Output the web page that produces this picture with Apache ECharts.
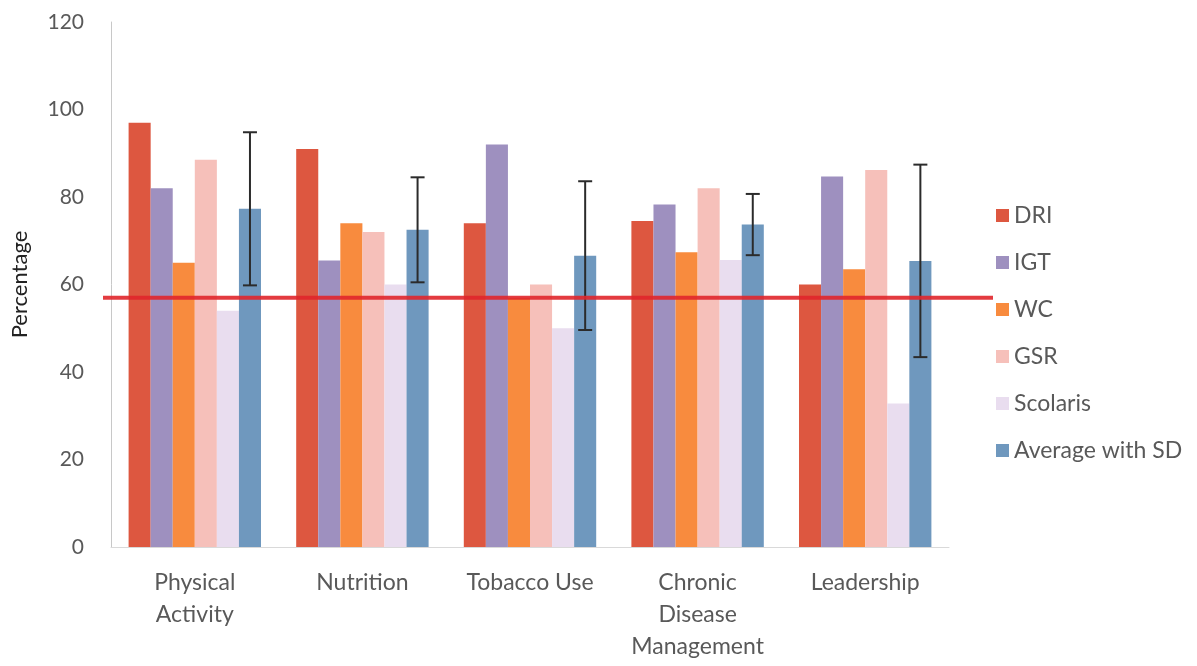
<!DOCTYPE html>
<html>
<head>
<meta charset="utf-8">
<script src="https://cdn.jsdelivr.net/npm/echarts@6/dist/echarts.min.js"></script>
<style>
  html, body { margin: 0; padding: 0; background: #ffffff; }
  #chart { width: 1197px; height: 666px; }
</style>
</head>
<body>
<div id="chart"></div>
<script>
// Policy domains on the x axis
const categories = ['Physical\nActivity', 'Nutrition', 'Tobacco Use', 'Chronic\nDisease\nManagement', 'Leadership'];

// Percentage scores per instrument
const dri      = [97, 91, 74, 74.5, 60];
const igt      = [82, 65.5, 92, 78.3, 84.7];
const wc       = [65, 74, 57, 67.4, 63.5];
const gsr      = [88.5, 72, 60, 82, 86.2];
const scolaris = [54, 60, 50, 65.6, 32.8];
const average  = [77.3, 72.5, 66.6, 73.7, 65.4];
const sd       = [17.5, 12, 17, 7, 22];

// Reference threshold
const threshold = 57;

const yTicks = [0, 20, 40, 60, 80, 100, 120];

const colors = {
  DRI: '#dd5740',
  IGT: '#9e90bf',
  WC: '#f88b3e',
  GSR: '#f6c0ba',
  Scolaris: '#e9ddef',
  Avg: '#6f98be'
};

const font = 'Lato, "Open Sans", sans-serif';
const textGrey = '#595959';

const chart = echarts.init(document.getElementById('chart'));

function barSeries(name, data, color) {
  return {
    name: name,
    type: 'bar',
    data: data,
    barGap: '0%',
    barCategoryGap: '21%',
    itemStyle: { color: color },
    emphasis: { disabled: true },
    animation: false
  };
}

const option = {
  animation: false,
  backgroundColor: '#ffffff',
  grid: [
    { left: 111, right: 248, top: 22, bottom: 119 },
    // wider grid that only carries the threshold line
    { left: 103, right: 204, top: 22, bottom: 119 }
  ],
  legend: {
    orient: 'vertical',
    left: 991,
    top: 199,
    itemWidth: 13,
    itemHeight: 13,
    itemGap: 24,
    icon: 'rect',
    textStyle: { fontFamily: font, fontSize: 23, color: textGrey },
    data: ['DRI', 'IGT', 'WC', 'GSR', 'Scolaris', 'Average with SD']
  },
  xAxis: [
    {
      type: 'category',
      gridIndex: 0,
      data: categories,
      axisLine: { show: true, lineStyle: { color: '#d9d9d9', width: 1 } },
      axisTick: { show: false },
      axisLabel: {
        fontFamily: font,
        fontSize: 23,
        color: textGrey,
        lineHeight: 32,
        margin: 20,
        interval: 0
      }
    },
    {
      type: 'value',
      gridIndex: 1,
      min: 0,
      max: 1,
      show: false
    }
  ],
  yAxis: [
    {
      type: 'value',
      gridIndex: 0,
      min: 0,
      max: 120,
      interval: 20,
      name: 'Percentage',
      nameLocation: 'middle',
      nameGap: 80,
      nameRotate: 90,
      nameTextStyle: { fontFamily: font, fontSize: 22, color: '#222222' },
      axisLine: { show: true, lineStyle: { color: '#c8c8c8', width: 1 } },
      axisTick: { show: false },
      splitLine: { show: false },
      axisLabel: {
        fontFamily: font,
        fontSize: 21,
        color: textGrey,
        margin: 27,
        formatter: function (v) { return yTicks.indexOf(v) >= 0 ? String(v) : ''; }
      }
    },
    {
      type: 'value',
      gridIndex: 1,
      min: 0,
      max: 120,
      show: false
    }
  ],
  series: [
    barSeries('DRI', dri, colors.DRI),
    barSeries('IGT', igt, colors.IGT),
    barSeries('WC', wc, colors.WC),
    barSeries('GSR', gsr, colors.GSR),
    barSeries('Scolaris', scolaris, colors.Scolaris),
    barSeries('Average with SD', average, colors.Avg),
    {
      // standard deviation whiskers on the average bars
      name: 'SD',
      type: 'custom',
      xAxisIndex: 0,
      yAxisIndex: 0,
      z: 5,
      data: average.map(function (v, i) { return [i, v - sd[i], v + sd[i]]; }),
      renderItem: function (params, api) {
        const idx = api.value(0);
        const lo = api.coord([idx, api.value(1)]);
        const hi = api.coord([idx, api.value(2)]);
        const bandW = api.size([1, 0])[0];
        const barW = bandW * (1 - 0.21) / 6;
        // the average bar is the sixth of six bars in each group
        const cx = lo[0] - bandW * (1 - 0.21) / 2 + barW * 5.5;
        const cap = 7;
        const style = { stroke: '#2b2b2b', lineWidth: 2 };
        return {
          type: 'group',
          children: [
            { type: 'line', shape: { x1: cx, y1: hi[1], x2: cx, y2: lo[1] }, style: style },
            { type: 'line', shape: { x1: cx - cap, y1: hi[1], x2: cx + cap, y2: hi[1] }, style: style },
            { type: 'line', shape: { x1: cx - cap, y1: lo[1], x2: cx + cap, y2: lo[1] }, style: style }
          ]
        };
      },
      animation: false
    },
    {
      name: 'Threshold',
      type: 'line',
      xAxisIndex: 1,
      yAxisIndex: 1,
      z: 6,
      symbol: 'none',
      data: [[0, threshold], [1, threshold]],
      lineStyle: { color: '#e0262b', width: 4, opacity: 0.9 },
      emphasis: { disabled: true },
      animation: false
    }
  ]
};

chart.setOption(option);
</script>
</body>
</html>
